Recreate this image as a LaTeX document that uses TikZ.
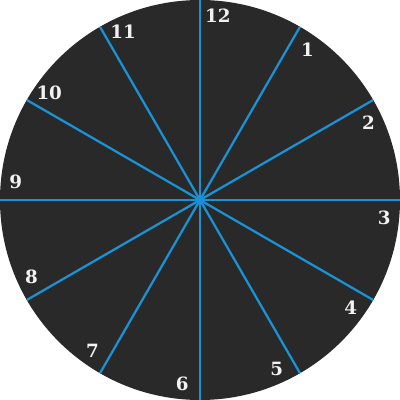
\documentclass[tikz,border=0pt]{standalone}
\usepackage{fontspec}
\usepackage{xcolor}
\usepackage{tikz}
\usetikzlibrary{calc}
\definecolor{dialgray}{HTML}{292929}
\definecolor{spokeblue}{HTML}{1A93D6}
\definecolor{numwhite}{HTML}{F2F2F2}
\newfontfamily\dialfont{DejaVu Serif}

\begin{document}
\begin{tikzpicture}[
    dial/.style={fill=dialgray, draw=none},
    spoke/.style={draw=spokeblue, line width=1.6pt},
    hour/.style={text=numwhite, font=\dialfont\fontsize{13}{13}\selectfont\bfseries, inner sep=0pt},
]
\useasboundingbox (-5,-5) rectangle (5,5);

% Dial face
\fill[dial] (0,0) circle (5cm);
\coordinate (c) at (0,0);

% Rim points and hour numbers
\foreach \h in {1,...,12} {
    \coordinate (r\h) at ({90-30*\h}:5cm);
    \node[hour] (h\h) at ({84.5-30*\h}:4.63cm) {\h};
}

% Spokes
\foreach \h in {1,...,12} {
    \draw[spoke] (c) -- (r\h);
}

\end{tikzpicture}
\end{document}
